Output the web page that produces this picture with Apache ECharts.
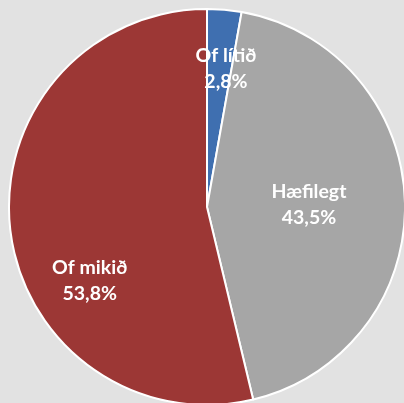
<!DOCTYPE html>
<html><head><meta charset="utf-8">
<script src="https://cdn.jsdelivr.net/npm/echarts@6/dist/echarts.min.js"></script>
<style>html,body{margin:0;padding:0;background:#e2e2e2;}#c{width:404px;height:403px;}</style>
</head><body><div id="c"></div>
<script>
const categories = ['Of lítið', 'Hæfilegt', 'Of mikið'];
const values = [2.8, 43.5, 53.8];
const colors = ['#3f6fb0', '#a6a6a6', '#9c3735'];
const labelShift = [[10, -37], [0, 1], [-16, 62]];

const chart = echarts.init(document.getElementById('c'));
chart.setOption({
  backgroundColor: '#e2e2e2',
  animation: false,
  series: [{
    type: 'pie',
    center: [207, 207],
    radius: 198,
    startAngle: 90,
    clockwise: true,
    data: categories.map((n, i) => ({name: n, value: values[i], itemStyle: {color: colors[i]}})),
    itemStyle: {borderColor: '#ffffff', borderWidth: 2},
    label: {
      position: 'inside',
      color: '#ffffff',
      fontFamily: 'Lato',
      fontWeight: 'bold',
      fontSize: 19.5,
      lineHeight: 26,
      formatter: p => p.name + '\n' + String(p.value).replace('.', ',') + '%'
    },
    labelLayout: p => ({dx: labelShift[p.dataIndex][0], dy: labelShift[p.dataIndex][1]}),
    emphasis: {disabled: true}
  }]
});
</script></body></html>
